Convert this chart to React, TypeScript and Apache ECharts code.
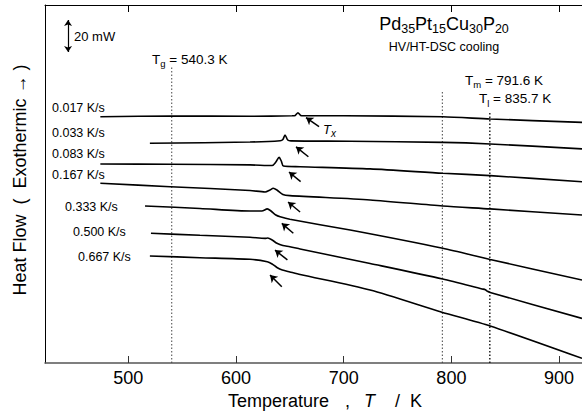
import React, { useEffect, useRef } from "react";
import * as echarts from "echarts";

// ---- data (temperature in K, heat flow in mW with arbitrary offsets) ----
const rateLabels = ["0.017 K/s", "0.033 K/s", "0.083 K/s", "0.167 K/s", "0.333 K/s", "0.500 K/s", "0.667 K/s"];

const temps1 = [474, 540, 613, 652, 655, 657.5, 660, 663, 700, 792, 836, 921.3];
const flow1 = [153.9, 154.4, 154.2, 154.5, 154.7, 156.4, 154.7, 154.5, 154.5, 153.9, 152.5, 150.4];

const temps2 = [520, 613, 641, 643.5, 645.5, 648, 651, 706, 792, 836, 921.3];
const flow2 = [137.3, 138.1, 138.9, 139.7, 142.5, 139.4, 138.8, 138.6, 137.9, 136.9, 133.8];

const temps3 = [474, 539, 613, 633.5, 637, 640, 642, 644, 659.5, 724.5, 792, 836, 921.3];
const flow3 = [124.4, 124.2, 123.8, 123.4, 125.6, 128.6, 126.3, 123.1, 122.7, 121.3, 118.6, 117.1, 113.3];

const temps4 = [474, 539, 613, 627, 631.5, 634.5, 638, 643.5, 650, 724.5, 792, 836, 921.3];
const flow4 = [112.3, 110.2, 107.8, 106.9, 108.1, 109.2, 108.1, 105.3, 104.6, 101.9, 98.1, 96.3, 92.5];

const temps5 = [515.5, 566.5, 613, 624, 629, 632.5, 637, 641, 650, 706, 792, 836, 921.3];
const flow5 = [98.1, 96.6, 95, 95, 96.3, 95, 92.5, 91.4, 89.8, 83.1, 71.7, 64.7, 51.9];

const temps6 = [521, 566.5, 613, 627, 629.5, 633.5, 638, 643.5, 650, 659.5, 724.5, 792, 828.5, 831.5, 833.5, 836, 921.3];
const flow6 = [81.1, 79.8, 78.6, 77.9, 78.1, 76.9, 74.8, 73.4, 72.7, 71.3, 62.2, 52.5, 46.3, 45.8, 44.8, 44.1, 27.9];

const temps7 = [520, 566.5, 613, 629, 633.5, 638, 643, 650, 659.5, 724.5, 790.5, 836, 921.3];
const flow7 = [66.9, 65.8, 64.8, 63.3, 61.9, 59.7, 58.1, 56.9, 55.3, 45.6, 31.9, 23.1, 2.9];

// Tx arrows (tail -> head)
const arrowTailT = [677.1, 667.2, 660, 659.5, 653.2, 647.7, 642.5];
const arrowTailV = [147.8, 128.9, 113.4, 94.4, 81.1, 64.4, 47.7];
const arrowHeadT = [665, 655.7, 649.2, 648.3, 642.5, 636.2, 631.6];
const arrowHeadV = [153.4, 135.1, 119.4, 100.6, 87.3, 70.6, 55];

// characteristic temperatures
const transNames = ["g", "m", "l"];
const transTemps = [540.3, 791.6, 835.7];
const transTop = [185, 170.6, 157.5];

// 20 mW scale bar
const scaleBarT = 444;
const scaleBarV = [194.4, 214.4];

const xTicks = [500, 600, 700, 800, 900];
const X_MIN = 422.6;
const X_MAX = 921.3;
const Y_MIN = 0;
const Y_MAX = 223.75;

const FONT = "Liberation Sans, Arial, Helvetica, sans-serif";

export default function App() {
  const ref = useRef<HTMLDivElement>(null);

  useEffect(() => {
    if (!ref.current) return;
    const chart = echarts.init(ref.current, null, { renderer: "svg" });

    const curves = [
      [temps1, flow1],
      [temps2, flow2],
      [temps3, flow3],
      [temps4, flow4],
      [temps5, flow5],
      [temps6, flow6],
      [temps7, flow7],
    ];

    const curveSeries = curves.map(([t, v], i) => ({
      type: "line",
      name: rateLabels[i],
      xAxisIndex: 0,
      yAxisIndex: 0,
      data: t.map((x, j) => [x, v[j]]),
      showSymbol: false,
      smooth: 0.25,
      lineStyle: { color: "#000", width: 1.6 },
      z: 5,
    }));

    const transSeries = transTemps.map((t, i) => ({
      type: "line",
      name: "T" + transNames[i],
      xAxisIndex: 0,
      yAxisIndex: 0,
      data: [
        [t, Y_MIN],
        [t, transTop[i]],
      ],
      showSymbol: false,
      lineStyle: {
        color: i === 2 ? "#111" : "#444",
        width: i === 2 ? 1.4 : 1,
        type: [1.5, 2],
      },
      z: 3,
    }));

    const arrowSeries = {
      type: "lines",
      coordinateSystem: "cartesian2d",
      xAxisIndex: 0,
      yAxisIndex: 0,
      symbol: ["none", "arrow"],
      symbolSize: 7,
      lineStyle: { color: "#000", width: 1.5, opacity: 1 },
      data: arrowTailT.map((t, i) => ({
        coords: [
          [t, arrowTailV[i]],
          [arrowHeadT[i], arrowHeadV[i]],
        ],
      })),
      z: 6,
    };

    const scaleSeries = {
      type: "lines",
      coordinateSystem: "cartesian2d",
      xAxisIndex: 0,
      yAxisIndex: 0,
      symbol: ["arrow", "arrow"],
      symbolSize: 6,
      lineStyle: { color: "#000", width: 1.2, opacity: 1 },
      data: [
        {
          coords: [
            [scaleBarT, scaleBarV[0]],
            [scaleBarT, scaleBarV[1]],
          ],
        },
      ],
      z: 6,
    };

    const rateLabelPos = [
      [52, 108.3],
      [52, 133.3],
      [52, 153.5],
      [52, 175],
      [65, 206.7],
      [73, 231.7],
      [78, 256.7],
    ];

    const subRich = (size: number) => ({
      m: { fontSize: size, fontFamily: FONT, color: "#000", lineHeight: size + 6, verticalAlign: "middle" },
      s: { fontSize: size - 4, fontFamily: FONT, color: "#000", lineHeight: size - 4, verticalAlign: "bottom" },
    });

    const transLabelPos = [
      [152, 59],
      [465, 80],
      [479, 98.5],
    ];

    const graphics: any[] = [
      ...rateLabels.map((lab, i) => ({
        type: "text",
        x: rateLabelPos[i][0],
        y: rateLabelPos[i][1],
        style: {
          text: lab,
          fontSize: 12.5,
          fontFamily: FONT,
          fill: "#000",
          verticalAlign: "middle",
          align: "left",
        },
      })),
      ...transNames.map((n, i) => ({
        type: "text",
        x: transLabelPos[i][0],
        y: transLabelPos[i][1],
        style: {
          text: `{m|T}{s|${n}}{m| = ${transTemps[i].toFixed(1)} K}`,
          rich: subRich(13.5),
          verticalAlign: "middle",
          align: "left",
        },
      })),
      {
        type: "text",
        x: 74,
        y: 36,
        style: { text: "20 mW", fontSize: 13, fontFamily: FONT, fill: "#000", verticalAlign: "middle" },
      },
      {
        type: "text",
        x: 444,
        y: 24,
        style: {
          text: "{m|Pd}{s|35}{m|Pt}{s|15}{m|Cu}{s|30}{m|P}{s|20}",
          rich: {
            m: { fontSize: 18, fontFamily: FONT, color: "#000", lineHeight: 22, verticalAlign: "middle" },
            s: { fontSize: 12.5, fontFamily: FONT, color: "#000", lineHeight: 12.5, verticalAlign: "bottom" },
          },
          align: "center",
          verticalAlign: "middle",
        },
      },
      {
        type: "text",
        x: 444,
        y: 46.5,
        style: {
          text: "HV/HT-DSC cooling",
          fontSize: 12.5,
          fontFamily: FONT,
          fill: "#000",
          align: "center",
          verticalAlign: "middle",
        },
      },
      {
        type: "text",
        x: 323,
        y: 129,
        style: {
          text: "{m|T}{s|x}",
          rich: {
            m: { fontSize: 13, fontFamily: FONT, fontStyle: "italic", color: "#000", lineHeight: 18, verticalAlign: "middle" },
            s: { fontSize: 10, fontFamily: FONT, fontStyle: "italic", color: "#000", lineHeight: 10, verticalAlign: "bottom" },
          },
          verticalAlign: "middle",
          align: "left",
        },
      },
      // axis titles
      {
        type: "text",
        x: 20,
        y: 180,
        rotation: Math.PI / 2,
        style: {
          text: "Heat Flow  (  Exothermic \u2192 )",
          fontSize: 18,
          fontFamily: FONT,
          fill: "#000",
          align: "center",
          verticalAlign: "middle",
        },
      },
      {
        type: "text",
        x: 228,
        y: 401,
        style: { text: "Temperature", fontSize: 18, fontFamily: FONT, fill: "#000", verticalAlign: "middle" },
      },
      {
        type: "text",
        x: 345,
        y: 401,
        style: { text: ",", fontSize: 18, fontFamily: FONT, fill: "#000", verticalAlign: "middle" },
      },
      {
        type: "text",
        x: 364,
        y: 401,
        style: { text: "T", fontSize: 18, fontStyle: "italic", fontFamily: FONT, fill: "#000", verticalAlign: "middle" },
      },
      {
        type: "text",
        x: 395,
        y: 401,
        style: { text: "/", fontSize: 18, fontFamily: FONT, fill: "#000", verticalAlign: "middle" },
      },
      {
        type: "text",
        x: 410,
        y: 401,
        style: { text: "K", fontSize: 18, fontFamily: FONT, fill: "#000", verticalAlign: "middle" },
      },
    ];

    chart.setOption({
      animation: false,
      backgroundColor: "#fff",
      grid: { left: 45, right: 0, top: 5, bottom: 53, containLabel: false },
      xAxis: [
        {
          type: "value",
          position: "bottom",
          min: X_MIN,
          max: X_MAX,
          axisLine: { show: true, lineStyle: { color: "#555", width: 1.5 } },
          axisTick: { show: true, inside: true, length: 7, customValues: xTicks, lineStyle: { color: "#333", width: 1 } },
          axisLabel: { show: true, customValues: xTicks, fontSize: 18, fontFamily: FONT, color: "#000", margin: 6 },
          splitLine: { show: false },
        },
        {
          type: "value",
          position: "top",
          min: X_MIN,
          max: X_MAX,
          axisLine: { show: true, lineStyle: { color: "#000", width: 1 } },
          axisTick: { show: true, inside: true, length: 7, customValues: xTicks, lineStyle: { color: "#000", width: 1 } },
          axisLabel: { show: false },
          splitLine: { show: false },
        },
      ],
      yAxis: {
        type: "value",
        min: Y_MIN,
        max: Y_MAX,
        axisLine: { show: true, lineStyle: { color: "#000", width: 1 } },
        axisTick: { show: false },
        axisLabel: { show: false },
        splitLine: { show: false },
      },
      series: [...curveSeries, ...transSeries, arrowSeries, scaleSeries],
      graphic: graphics,
    });

    return () => chart.dispose();
  }, []);

  return <div ref={ref} style={{ position: "fixed", left: 0, top: 0, width: 582, height: 416, background: "#fff" }} />;
}
